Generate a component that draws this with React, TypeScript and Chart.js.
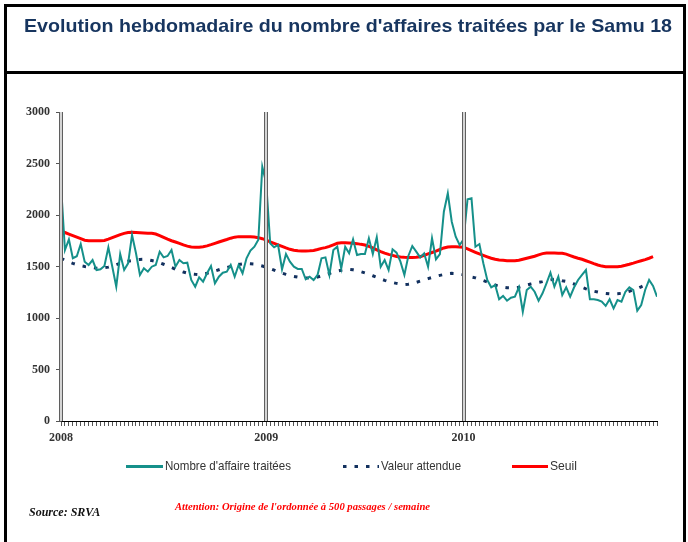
import React, { useEffect, useRef } from "react";
import { Chart, registerables } from "chart.js";

Chart.register(...registerables);

// ---- Data (weekly values) ----
const nombreAffaires = [
  2291, 1660, 1764, 1580, 1600, 1718, 1547, 1515, 1563, 1466,
  1473, 1505, 1686, 1498, 1304, 1621, 1466, 1531, 1806, 1628,
  1418, 1482, 1450, 1498, 1515, 1644, 1589, 1602, 1660, 1498,
  1563, 1531, 1537, 1369, 1304, 1395, 1353, 1434, 1505, 1337,
  1401, 1440, 1450, 1515, 1401, 1515, 1434, 1580, 1654, 1692,
  1760, 2469, 2308, 1725, 1686, 1709, 1473, 1621, 1547, 1498,
  1476, 1476, 1376, 1401, 1369, 1418, 1580, 1589, 1418, 1660,
  1692, 1482, 1692, 1628, 1764, 1612, 1621, 1621, 1774, 1621,
  1783, 1498, 1563, 1466, 1667, 1634, 1547, 1418, 1602, 1699,
  1644, 1589, 1628, 1498, 1774, 1570, 1621, 2032, 2211, 1935,
  1789, 1709, 1764, 2153, 2162, 1692, 1718, 1531, 1369, 1298,
  1320, 1182, 1214, 1168, 1197, 1207, 1298, 1061, 1272, 1304,
  1255, 1168, 1240, 1337, 1440, 1304, 1401, 1223, 1298, 1207,
  1298, 1369, 1418, 1466, 1182, 1182, 1175, 1159, 1117, 1182,
  1094, 1175, 1159, 1255, 1298, 1272, 1071, 1126, 1272, 1369,
  1311, 1207,
];

const valeurAttendue = [
  1580, 1562, 1545, 1530, 1518, 1508, 1500, 1495, 1490, 1484,
  1483, 1488, 1494, 1505, 1518, 1531, 1542, 1552, 1558, 1564,
  1569, 1570, 1566, 1558, 1550, 1537, 1522, 1507, 1490, 1474,
  1458, 1446, 1436, 1428, 1424, 1421, 1425, 1434, 1444, 1456,
  1468, 1480, 1490, 1500, 1512, 1520, 1526, 1528, 1526, 1523,
  1515, 1505, 1493, 1480, 1465, 1449, 1436, 1424, 1413, 1404,
  1397, 1393, 1390, 1388, 1390, 1398, 1410, 1421, 1432, 1445,
  1455, 1463, 1470, 1472, 1468, 1460, 1450, 1438, 1425, 1410,
  1395, 1380, 1366, 1353, 1344, 1336, 1329, 1325, 1328, 1336,
  1346, 1358, 1370, 1382, 1394, 1404, 1414, 1422, 1430, 1434,
  1432, 1427, 1420, 1410, 1398, 1390, 1377, 1364, 1350, 1336,
  1320, 1308, 1299, 1294, 1293, 1295, 1298, 1308, 1320, 1330,
  1338, 1346, 1353, 1362, 1370, 1376, 1372, 1362, 1355, 1343,
  1330, 1315, 1298, 1283, 1270, 1260, 1252, 1244, 1238, 1234,
  1233, 1235, 1240, 1248, 1260, 1272, 1286, 1303, 1320,
];

const seuil = [
  1848, 1830, 1815, 1800, 1785, 1770, 1755, 1750, 1750, 1750,
  1750, 1752, 1765, 1780, 1795, 1810, 1822, 1830, 1832, 1830,
  1828, 1826, 1824, 1822, 1815, 1800, 1782, 1765, 1750, 1738,
  1725, 1710, 1698, 1690, 1686, 1688, 1692, 1700, 1712, 1725,
  1738, 1750, 1762, 1775, 1785, 1790, 1790, 1790, 1788, 1786,
  1780, 1770, 1757, 1740, 1725, 1710, 1695, 1680, 1667, 1658,
  1652, 1650, 1650, 1652, 1656, 1665, 1676, 1683, 1695, 1710,
  1725, 1730, 1730, 1728, 1726, 1722, 1715, 1709, 1695, 1680,
  1662, 1645, 1630, 1618, 1608, 1598, 1592, 1589, 1588, 1588,
  1589, 1595, 1608, 1622, 1636, 1650, 1665, 1680, 1690, 1692,
  1692, 1690, 1686, 1672, 1655, 1638, 1622, 1608, 1594, 1580,
  1570, 1563, 1560, 1557, 1556, 1556, 1560, 1570, 1580, 1590,
  1600, 1613, 1625, 1630, 1630, 1630, 1629, 1628, 1620, 1606,
  1592, 1580, 1570, 1556, 1542, 1528, 1515, 1504, 1498, 1497,
  1497, 1498, 1503, 1512, 1522, 1533, 1545, 1556, 1567, 1580,
  1595,
];

const yearLabels = ["2008", "2009", "2010"];
const yearWeeks = [0, 52, 102];
const seriesNames = ["Nombre d'affaire traitées", "Valeur attendue", "Seuil"];
const titleText = "Evolution hebdomadaire du nombre d'affaires traitées par le Samu 18";
const sourceText = "Source: SRVA";
const noteText = "Attention: Origine de l'ordonnée à 500 passages / semaine";

// ---- Styles ----
const TEAL = "#15908A";
const NAVY = "#12305E";
const RED = "#FF0000";
const W = 688;
const H = 542;

function fitText(
  ctx: CanvasRenderingContext2D,
  text: string,
  x: number,
  y: number,
  font: string,
  color: string,
  targetWidth: number | null
) {
  ctx.save();
  ctx.font = font;
  const w = ctx.measureText(text).width;
  const s = targetWidth ? targetWidth / w : 1;
  ctx.translate(x, y);
  ctx.scale(s, 1);
  ctx.fillStyle = color;
  ctx.textBaseline = "middle";
  ctx.textAlign = "left";
  ctx.fillText(text, 0, 0);
  ctx.restore();
}

const decorPlugin = {
  id: "decor",
  beforeDraw(chart: any) {
    const ctx: CanvasRenderingContext2D = chart.ctx;
    ctx.save();
    ctx.fillStyle = "#ffffff";
    ctx.fillRect(0, 0, W, H);
    ctx.strokeStyle = "#000000";
    ctx.lineWidth = 3;
    ctx.strokeRect(5.5, 5.5, 679, 620);
    ctx.beginPath();
    ctx.moveTo(5.5, 72.5);
    ctx.lineTo(684.5, 72.5);
    ctx.stroke();
    ctx.restore();
    fitText(ctx, titleText, 24, 27, "bold 19px 'Liberation Sans', Arial, sans-serif", "#17355F", 648);
  },
  afterDatasetsDraw(chart: any) {
    const ctx: CanvasRenderingContext2D = chart.ctx;
    const xs = chart.scales.x;
    const ca = chart.chartArea;
    ctx.save();
    yearWeeks.forEach((w) => {
      const x = Math.round(xs.getPixelForValue(w));
      ctx.fillStyle = "#d4d4d4";
      ctx.fillRect(x - 2, ca.top, 4, ca.bottom - ca.top);
      ctx.strokeStyle = "#5f5f5f";
      ctx.lineWidth = 1;
      ctx.beginPath();
      ctx.moveTo(x - 1.5, ca.top);
      ctx.lineTo(x - 1.5, ca.bottom);
      ctx.moveTo(x + 1.5, ca.top);
      ctx.lineTo(x + 1.5, ca.bottom);
      ctx.stroke();
    });
    ctx.restore();
  },
  afterDraw(chart: any) {
    const ctx: CanvasRenderingContext2D = chart.ctx;
    const ds = chart.data.datasets;
    const ly = 466.5;
    const legendFont = "13px 'Liberation Sans', Arial, sans-serif";
    const items = [
      { x0: 126, x1: 163, tx: 165, tw: 126 },
      { x0: 343, x1: 379, tx: 381, tw: 80 },
      { x0: 512, x1: 548, tx: 550, tw: 27 },
    ];
    items.forEach((it, i) => {
      const d = ds[i];
      ctx.save();
      ctx.strokeStyle = d.borderColor;
      ctx.lineWidth = 3;
      ctx.lineCap = "butt";
      if (d.borderDash && d.borderDash.length) ctx.setLineDash(d.borderDash);
      ctx.beginPath();
      ctx.moveTo(it.x0, ly);
      ctx.lineTo(it.x1, ly);
      ctx.stroke();
      ctx.restore();
      fitText(ctx, d.label, it.tx, ly, legendFont, "#333333", it.tw);
    });
    fitText(ctx, sourceText, 29, 513, "italic bold 12px 'Liberation Serif', 'Times New Roman', serif", "#111111", null);
    fitText(ctx, noteText, 175, 507, "italic bold 11px 'Liberation Serif', 'Times New Roman', serif", RED, 255);
  },
};

export default function App() {
  const ref = useRef<HTMLCanvasElement | null>(null);

  useEffect(() => {
    if (!ref.current) return;
    const toXY = (arr: number[]) => arr.map((v, i) => ({ x: i, y: v }));
    const weekTicks = nombreAffaires.map((_, i) => i);
    const tickFont = { family: "'Liberation Serif', 'Times New Roman', serif", size: 12, weight: "bold" as const };

    const chart = new Chart(ref.current, {
      type: "line",
      data: {
        datasets: [
          {
            label: seriesNames[0],
            data: toXY(nombreAffaires),
            borderColor: TEAL,
            borderWidth: 2,
            pointRadius: 0,
            tension: 0,
          },
          {
            label: seriesNames[1],
            data: toXY(valeurAttendue),
            borderColor: NAVY,
            borderWidth: 3,
            borderDash: [3.5, 8],
            borderCapStyle: "butt",
            pointRadius: 0,
            tension: 0,
          },
          {
            label: seriesNames[2],
            data: toXY(seuil),
            borderColor: RED,
            borderWidth: 3,
            pointRadius: 0,
            tension: 0,
          },
        ],
      },
      options: {
        animation: false,
        responsive: false,
        devicePixelRatio: 1,
        layout: { padding: { top: 112, right: 31, left: 0, bottom: 0 } },
        plugins: { legend: { display: false }, title: { display: false }, tooltip: { enabled: false } },
        scales: {
          x: {
            type: "linear",
            min: 0,
            max: 151,
            border: { display: true, color: "#000000", width: 1 },
            grid: { display: true, drawOnChartArea: false, drawTicks: true, tickLength: 5, color: "#555555" },
            afterBuildTicks: (axis: any) => {
              axis.ticks = weekTicks.map((v) => ({ value: v }));
            },
            afterFit: (s: any) => {
              s.height = H - 421;
            },
            ticks: {
              autoSkip: false,
              maxRotation: 0,
              minRotation: 0,
              padding: 5,
              color: "#333333",
              font: tickFont,
              callback: (v: any) => {
                const k = yearWeeks.indexOf(Number(v));
                return k >= 0 ? yearLabels[k] : "";
              },
            },
          },
          y: {
            min: 0,
            max: 3000,
            border: { display: true, color: "#333333", width: 1 },
            grid: { display: true, drawOnChartArea: false, drawTicks: true, tickLength: 5, color: "#555555" },
            afterFit: (s: any) => {
              s.width = 61;
            },
            ticks: {
              stepSize: 500,
              padding: 6,
              color: "#333333",
              font: tickFont,
              callback: (v: any) => String(v),
            },
          },
        },
      },
      plugins: [decorPlugin],
    });
    return () => chart.destroy();
  }, []);

  return (
    <div style={{ position: "absolute", left: 0, top: 0, width: W, height: H, background: "#fff" }}>
      <canvas ref={ref} width={W} height={H} style={{ display: "block", width: W, height: H }} />
    </div>
  );
}
